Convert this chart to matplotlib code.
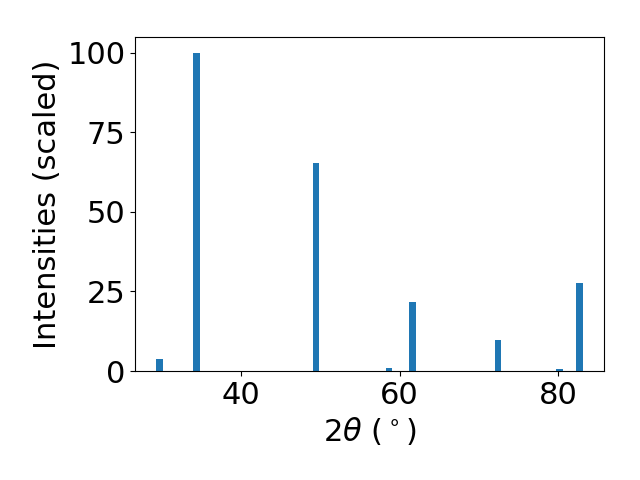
import matplotlib
matplotlib.use("Agg")
import matplotlib.pyplot as plt

two_theta = [29.73, 34.41, 49.43, 58.65, 61.64, 72.44, 80.16, 82.70]
intensities = [3.7, 100.0, 65.2, 0.85, 21.6, 9.9, 0.55, 27.5]

plt.rcParams['font.size'] = 22
fig, ax = plt.subplots(figsize=(6.4, 4.8), dpi=100)
ax.bar(two_theta, intensities, width=0.8, color='#1f77b4')
ax.set_xlabel(r'$2\theta$ ($^\circ$)')
ax.set_ylabel('Intensities (scaled)')
ax.set_yticks([0, 25, 50, 75, 100])
fig.subplots_adjust(left=0.211, right=0.944, top=0.9235, bottom=0.227)
fig.savefig('out.png', dpi=100)
